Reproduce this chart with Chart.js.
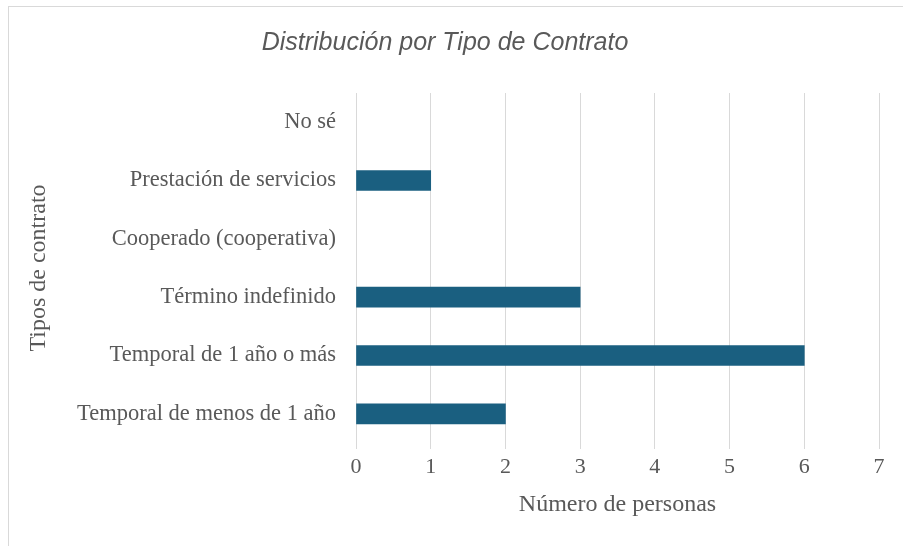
<!DOCTYPE html>
<html>
<head>
<meta charset="utf-8">
<script src="https://cdn.jsdelivr.net/npm/chart.js@4.4.1/dist/chart.umd.min.js"></script>
<style>
  html, body { margin: 0; padding: 0; background: #ffffff; }
  #wrap { position: relative; width: 903px; height: 546px; overflow: hidden; }
  #frame { position: absolute; left: 8px; top: 6px; width: 1000px; height: 1000px; border: 1px solid #d9d9d9; box-sizing: border-box; }
  #c { position: absolute; left: 0; top: 0; }
</style>
</head>
<body>
<div id="wrap">
  <div id="frame"></div>
  <canvas id="c" width="903" height="546"></canvas>
</div>
<script>
const categories = [
  "No sé",
  "Prestación de servicios",
  "Cooperado (cooperativa)",
  "Término indefinido",
  "Temporal de 1 año o más",
  "Temporal de menos de 1 año"
];
const personas = [0, 1, 0, 3, 6, 2];
const xTicks = [0, 1, 2, 3, 4, 5, 6, 7];

const grey = "#595959";
const serif = "'Liberation Serif', 'Times New Roman', serif";

new Chart(document.getElementById("c"), {
  type: "bar",
  data: {
    labels: categories,
    datasets: [{
      label: "Número de personas",
      data: personas,
      backgroundColor: (ctx) => (ctx.raw === 0 ? "rgba(0,0,0,0)" : "#1a5f80"),
      borderWidth: 0,
      barThickness: 20
    }]
  },
  options: {
    indexAxis: "y",
    responsive: false,
    animation: false,
    layout: { padding: { left: 11, right: 24, top: 0, bottom: 0 } },
    plugins: {
      legend: { display: false },
      tooltip: { enabled: false },
      title: {
        display: true,
        text: "Distribución por Tipo de Contrato",
        color: grey,
        font: { family: "'Liberation Sans', Arial, sans-serif", size: 25, style: "italic", weight: "normal", lineHeight: 1.2 },
        padding: { top: 28, bottom: 35 }
      }
    },
    scales: {
      x: {
        min: 0,
        max: 7,
        afterBuildTicks: (s) => { s.ticks = xTicks.map(v => ({ value: v })); },
        grid: { color: "#d9d9d9", lineWidth: 1, drawTicks: true, tickLength: 6, tickColor: "#d9d9d9" },
        border: { display: false },
        ticks: { color: grey, font: { family: serif, size: 22 }, padding: 5 },
        title: {
          display: true,
          text: "Número de personas",
          color: grey,
          font: { family: serif, size: 24, lineHeight: 1.2 },
          padding: { top: 0, bottom: 27 }
        },
        afterFit: (s) => { s.height = 103; }
      },
      y: {
        grid: { display: false, drawTicks: false },
        border: { display: false },
        ticks: { color: grey, font: { family: serif, size: 22.5 }, padding: 20 },
        title: {
          display: true,
          text: "Tipos de contrato",
          color: grey,
          font: { family: serif, size: 24, lineHeight: 1.2 },
          padding: { top: 13, bottom: 0 }
        },
        afterFit: (s) => { s.width = 345; }
      }
    }
  }
});
</script>
</body>
</html>
